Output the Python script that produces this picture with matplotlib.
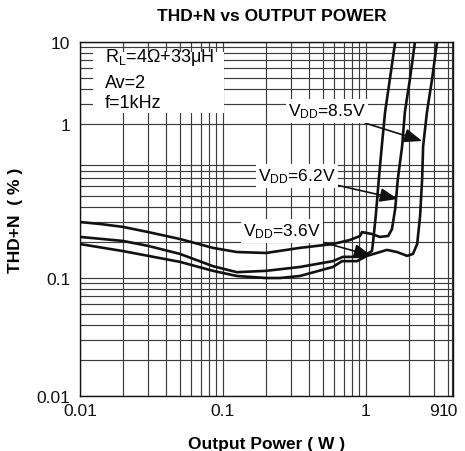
import matplotlib
matplotlib.use("Agg")
import matplotlib.pyplot as plt
from matplotlib.patches import Rectangle

plt.rcParams['font.family'] = ['Liberation Sans', 'DejaVu Sans']
plt.rcParams['mathtext.fontset'] = 'custom'
plt.rcParams['mathtext.rm'] = 'Liberation Sans'
plt.rcParams['mathtext.it'] = 'Liberation Sans:italic'
plt.rcParams['mathtext.bf'] = 'Liberation Sans:bold'

# ---- data ----
p_62 = [0.01, 0.0138, 0.02, 0.03, 0.05, 0.085, 0.125, 0.2, 0.345, 0.587, 0.773,
        0.908, 0.938, 1.10, 1.25, 1.43, 1.52, 1.60, 1.67, 1.79, 1.87, 2.03, 2.20, 2.25]
thd_62 = [0.298, 0.287, 0.271, 0.245, 0.214, 0.180, 0.166, 0.163, 0.180, 0.194, 0.210,
          0.227, 0.245, 0.236, 0.223, 0.227, 0.260, 0.385, 0.69, 1.31, 2.55, 4.86, 10.0, 11.5]

p_36 = [0.01, 0.02, 0.03, 0.05, 0.085, 0.125, 0.2, 0.345, 0.587, 0.69, 0.908,
        1.016, 1.10, 1.12, 1.17, 1.23, 1.29, 1.36, 1.47, 1.60, 1.64]
thd_36 = [0.223, 0.206, 0.187, 0.160, 0.126, 0.112, 0.115, 0.124, 0.139, 0.151, 0.151,
          0.160, 0.169, 0.20, 0.335, 0.69, 1.31, 2.55, 4.86, 10.0, 11.5]

p_85 = [0.01, 0.02, 0.03, 0.05, 0.085, 0.125, 0.2, 0.25, 0.345, 0.587, 0.68, 0.865,
        1.016, 1.19, 1.40, 1.65, 1.94, 2.13, 2.28, 2.39, 2.47, 2.51, 2.67, 2.90, 3.14, 3.2]
thd_85 = [0.194, 0.169, 0.154, 0.137, 0.115, 0.104, 0.100, 0.100, 0.104, 0.124, 0.139, 0.139,
          0.154, 0.163, 0.173, 0.166, 0.154, 0.160, 0.194, 0.335, 0.69, 1.31, 2.55, 4.86, 10.0, 11.5]

x_tick_pos = [0.01, 0.1, 1, 3.0, 3.74]
x_tick_labels = ['0.01', '0.1', '1', '9', '10']
y_tick_pos = [0.01, 0.1, 2, 10]
y_tick_labels = ['0.01', '0.1', '1', '10']

# ---- figure ----
fig = plt.figure(figsize=(4.65, 4.52), dpi=100)
ax = fig.add_axes([80/465, 1-397/452, 373/465, 354/452])
ax.set_xscale('log')
ax.set_yscale('log')
ax.set_xlim(0.01, 4.06)
ax.set_ylim(0.01, 10)

ax.grid(True, which='both', color='#3c3c3c', linewidth=0.85)
ax.set_axisbelow(True)

for p, t in [(p_62, thd_62), (p_36, thd_36), (p_85, thd_85)]:
    ax.plot(p, t, color='#111111', linewidth=1.9, solid_joinstyle='round', zorder=3)

ax.set_xticks(x_tick_pos)
ax.set_xticklabels(x_tick_labels)
ax.set_yticks(y_tick_pos)
ax.set_yticklabels(y_tick_labels)
ax.minorticks_on()
ax.xaxis.set_minor_formatter(matplotlib.ticker.NullFormatter())
ax.yaxis.set_minor_formatter(matplotlib.ticker.NullFormatter())
ax.tick_params(which='both', length=0)
ax.tick_params(axis='x', labelsize=12.5, pad=5, colors='#111111')
ax.tick_params(axis='y', labelsize=12.5, pad=7, colors='#111111')
for s in ax.spines.values():
    s.set_color('#111111')
    s.set_linewidth(1.0)

ax.set_xlabel('Output Power ( W )', fontsize=12.5, fontweight='bold', labelpad=13)
ax.set_ylabel('THD+N  ( % )', fontsize=12.5, fontweight='bold', labelpad=10)
fig.text(0.585, 0.964, 'THD+N vs OUTPUT POWER', fontsize=12.5, fontweight='bold',
         ha='center', va='center')

# condition box
ax.add_patch(Rectangle((0.035, 0.80), 0.35, 0.172, transform=ax.transAxes,
                       facecolor='white', edgecolor='none', zorder=4))
ax.text(0.067, 0.958, r'R$_\mathrm{L}$=4Ω+33μH', transform=ax.transAxes, fontsize=13,
        va='center', ha='left', zorder=5)
ax.text(0.067, 0.887, 'Av=2', transform=ax.transAxes, fontsize=13,
        va='center', ha='left', zorder=5)
ax.text(0.067, 0.828, 'f=1kHz', transform=ax.transAxes, fontsize=13,
        va='center', ha='left', zorder=5)

arrow = dict(arrowstyle='-|>,head_length=0.9,head_width=0.35', color='#111111',
             lw=1.2, mutation_scale=12, shrinkA=0, shrinkB=0)
box = dict(boxstyle='square,pad=0.15', facecolor='white', edgecolor='none')
ax.annotate(r'V$_\mathrm{DD}$=8.5V', xy=(2.47, 1.45), xytext=(0.533, 2.60),
            fontsize=12.5, ha='center', va='center', bbox=box, arrowprops=arrow, zorder=5)
ax.annotate(r'V$_\mathrm{DD}$=6.2V', xy=(1.67, 0.467), xytext=(0.329, 0.731),
            fontsize=12.5, ha='center', va='center', bbox=box, arrowprops=arrow, zorder=5)
ax.annotate(r'V$_\mathrm{DD}$=3.6V', xy=(1.10, 0.154), xytext=(0.259, 0.250),
            fontsize=12.5, ha='center', va='center', bbox=box, arrowprops=arrow, zorder=5)

fig.savefig('out.png', dpi=100)
